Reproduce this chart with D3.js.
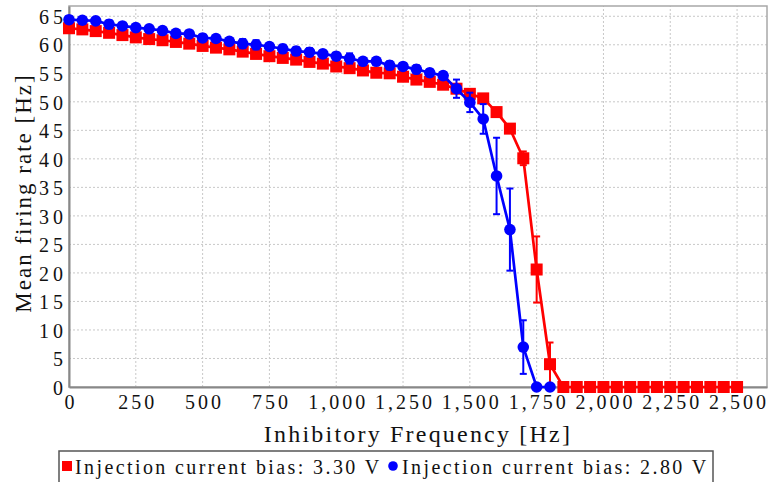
<!DOCTYPE html>
<html>
<head>
<meta charset="utf-8">
<script src="https://cdn.jsdelivr.net/npm/d3@7"></script>
<style>
  body { margin: 0; background: #fff; }
  svg text { font-family: "Liberation Serif", "DejaVu Serif", serif; fill: #111; }
</style>
</head>
<body>
<div id="chart"></div>
<script>
// inhibitory frequency [Hz]
const freqRed = [0, 50, 100, 150, 200, 250, 300, 350, 400, 450, 500, 550, 600, 650, 700, 750,
  800, 850, 900, 950, 1000, 1050, 1100, 1150, 1200, 1250, 1300, 1350, 1400, 1450, 1500, 1550,
  1600, 1650, 1700, 1750, 1800, 1850, 1900, 1950, 2000, 2050, 2100, 2150, 2200, 2250, 2300,
  2350, 2400, 2450, 2500];
const freqBlue = [0, 50, 100, 150, 200, 250, 300, 350, 400, 450, 500, 550, 600, 650, 700, 750,
  800, 850, 900, 950, 1000, 1050, 1100, 1150, 1200, 1250, 1300, 1350, 1400, 1450, 1500, 1550,
  1600, 1650, 1700, 1750, 1800];

// mean firing rate [Hz], bias 3.30 V
const rateRed = [62.9, 62.7, 62.4, 62.1, 61.7, 61.3, 61.0, 60.8, 60.5, 60.2, 59.8, 59.5, 59.2,
  58.8, 58.4, 58.0, 57.7, 57.4, 57.0, 56.7, 56.2, 55.9, 55.5, 55.1, 55.0, 54.4, 53.9, 53.5,
  53.0, 52.3, 51.4, 50.6, 48.2, 45.3, 40.1, 20.6, 4.0, 0, 0, 0, 0, 0, 0, 0, 0, 0, 0, 0, 0, 0, 0];
const errRed = [0.3, 0.3, 0.3, 0.3, 0.3, 0.3, 0.3, 0.3, 0.3, 0.3, 0.3, 0.3, 0.3, 0.3, 0.3, 0.3,
  0.3, 0.3, 0.3, 0.3, 0.3, 0.3, 0.3, 0.3, 0.3, 0.3, 0.3, 0.3, 0.3, 0.4, 0.4, 0.5, 0.5, 0.6,
  1.2, 5.8, 3.8, 0, 0, 0, 0, 0, 0, 0, 0, 0, 0, 0, 0, 0, 0];

// mean firing rate [Hz], bias 2.80 V
const rateBlue = [64.4, 64.3, 64.2, 63.6, 63.3, 63.0, 62.8, 62.5, 62.0, 61.9, 61.2, 61.1, 60.6,
  60.2, 60.0, 59.7, 59.3, 58.9, 58.7, 58.4, 58.0, 57.6, 57.1, 57.1, 56.4, 56.2, 55.7, 55.1,
  54.6, 52.3, 49.9, 47.0, 37.0, 27.6, 7.0, 0, 0];
const errBlue = [0.6, 0.5, 0.5, 0.7, 0.5, 0.5, 0.5, 0.5, 0.5, 0.5, 0.6, 0.5, 0.5, 0.8, 0.8, 0.6,
  0.7, 0.7, 0.7, 0.6, 0.6, 0.9, 0.6, 0.6, 0.7, 0.6, 0.7, 0.6, 0.6, 1.6, 1.7, 2.6, 6.7, 7.2,
  4.7, 0, 0];

const xTicks = [0, 250, 500, 750, 1000, 1250, 1500, 1750, 2000, 2250, 2500];
const yTicks = [0, 5, 10, 15, 20, 25, 30, 35, 40, 45, 50, 55, 60, 65];

const seriesNames = ["Injection current bias: 3.30 V", "Injection current bias: 2.80 V"];
const seriesColors = ["#ff0000", "#0000ff"];

const W = 768, H = 482;
const svg = d3.select("#chart").append("svg").attr("width", W).attr("height", H);

const x = d3.scaleLinear().domain([0, 2612]).range([69, 767]);
const y = d3.scaleLinear().domain([0, 66.8]).range([387, 6]);

// grid
svg.append("g").selectAll("line").data(xTicks.slice(1)).enter().append("line")
  .attr("x1", d => x(d)).attr("x2", d => x(d)).attr("y1", y(0)).attr("y2", y.range()[1])
  .attr("stroke", "#c8c8c8").attr("stroke-dasharray", "2,2");
svg.append("g").selectAll("line").data(yTicks.slice(1)).enter().append("line")
  .attr("x1", x.range()[0]).attr("x2", x.range()[1]).attr("y1", d => y(d)).attr("y2", d => y(d))
  .attr("stroke", "#c8c8c8").attr("stroke-dasharray", "2,2");

// frame
svg.append("rect").attr("x", 69).attr("y", 6).attr("width", 698).attr("height", 381)
  .attr("fill", "none").attr("stroke", "#a8a8a8").attr("stroke-width", 1.5);

// axes
const xAxis = svg.append("g").attr("transform", `translate(0,${y(0)})`)
  .call(d3.axisBottom(x).tickValues(xTicks).tickFormat(d3.format(",")).tickSize(0).tickPadding(8));
const yAxis = svg.append("g").attr("transform", `translate(${x(0)},0)`)
  .call(d3.axisLeft(y).tickValues(yTicks).tickSize(0).tickPadding(2));
[xAxis, yAxis].forEach(a => {
  a.select(".domain").attr("stroke", "#888").attr("stroke-width", 2);
  a.selectAll("text").attr("font-size", 20).attr("font-family", "Liberation Serif");
});
xAxis.selectAll("text").style("letter-spacing", "3px").attr("dx", "1.5px");
yAxis.selectAll("text").style("letter-spacing", "4px").attr("dy", "0.36em");

svg.append("text").attr("x", 418).attr("y", 442).attr("text-anchor", "middle")
  .attr("font-size", 24).style("letter-spacing", "2.2px")
  .text("Inhibitory Frequency [Hz]");
svg.append("text").attr("transform", "translate(31,193) rotate(-90)")
  .attr("text-anchor", "middle").attr("font-size", 23).style("letter-spacing", "2px")
  .text("Mean firing rate [Hz]");

// series
const series = [
  { xs: freqRed, ys: rateRed, es: errRed, shape: "square" },
  { xs: freqBlue, ys: rateBlue, es: errBlue, shape: "circle" }
];

series.forEach((s, k) => {
  const pts = s.xs.map((f, i) => ({ f: f, v: s.ys[i], e: s.es[i] }));
  const col = seriesColors[k];
  const g = svg.append("g");
  g.append("path").datum(pts)
    .attr("d", d3.line().x(d => x(d.f)).y(d => y(d.v)))
    .attr("fill", "none").attr("stroke", col).attr("stroke-width", 2.7);
  const eb = g.selectAll("g.err").data(pts.filter(d => d.e > 0)).enter().append("g");
  eb.append("line").attr("x1", d => x(d.f)).attr("x2", d => x(d.f))
    .attr("y1", d => y(d.v + d.e)).attr("y2", d => y(Math.max(0, d.v - d.e)))
    .attr("stroke", col).attr("stroke-width", 2);
  [1, -1].forEach(sg => {
    eb.append("line").attr("x1", d => x(d.f) - 3.5).attr("x2", d => x(d.f) + 3.5)
      .attr("y1", d => y(Math.max(0, d.v + sg * d.e))).attr("y2", d => y(Math.max(0, d.v + sg * d.e)))
      .attr("stroke", col).attr("stroke-width", 2);
  });
  if (s.shape === "square") {
    g.selectAll("rect.m").data(pts).enter().append("rect")
      .attr("x", d => x(d.f) - 6).attr("y", d => y(d.v) - 6)
      .attr("width", 12).attr("height", 12).attr("fill", col);
  } else {
    g.selectAll("circle.m").data(pts).enter().append("circle")
      .attr("cx", d => x(d.f)).attr("cy", d => y(d.v)).attr("r", 5.8).attr("fill", col);
  }
});

// legend
const leg = svg.append("g");
leg.append("rect").attr("x", 59).attr("y", 451).attr("width", 654).attr("height", 40)
  .attr("fill", "#fff").attr("stroke", "#555").attr("stroke-width", 1.5);
const legX = [75, 402];
seriesNames.forEach((name, k) => {
  if (k === 0) {
    leg.append("rect").attr("x", 62).attr("y", 461).attr("width", 10).attr("height", 10)
      .attr("fill", seriesColors[k]);
  } else {
    leg.append("circle").attr("cx", 393).attr("cy", 466).attr("r", 4.8)
      .attr("fill", seriesColors[k]);
  }
  leg.append("text").attr("x", legX[k]).attr("y", 474).attr("font-size", 20)
    .style("letter-spacing", "2.4px").text(name);
});
</script>
</body>
</html>
